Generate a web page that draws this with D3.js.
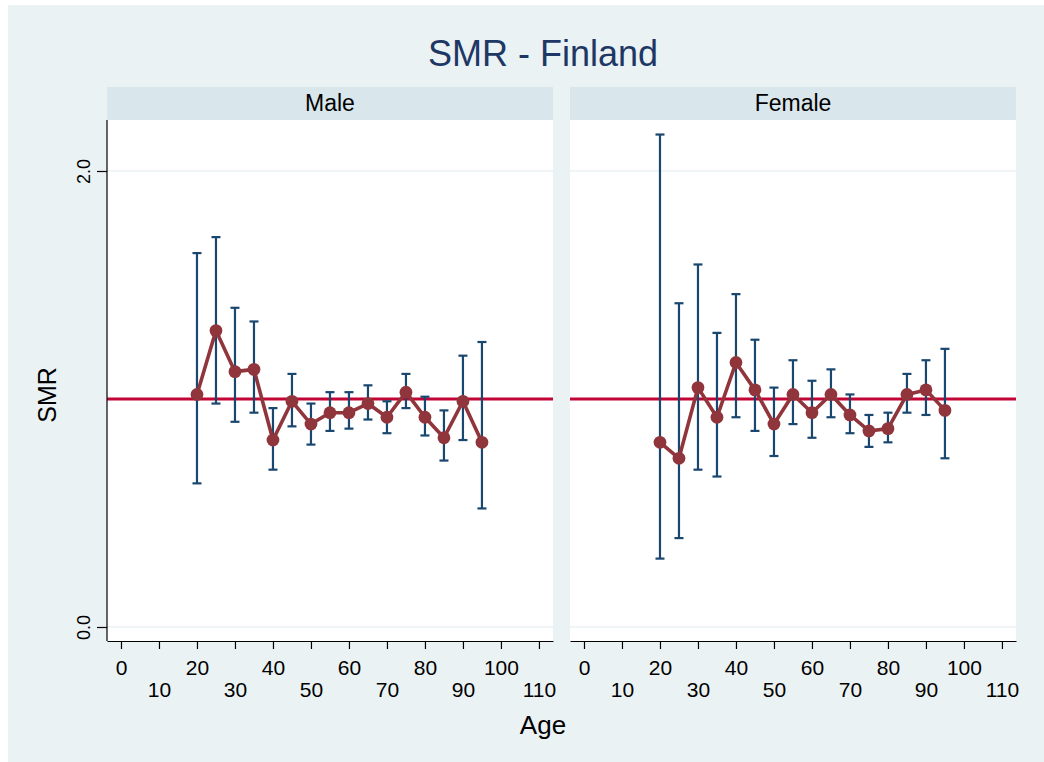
<!DOCTYPE html>
<html lang="en">
<head>
    <meta charset="UTF-8">
    <title>SMR - Finland</title>
    <script src="https://d3js.org/d3.v7.min.js" charset="utf-8"></script>
    <style>
        body { margin: 0; background: #fff; }
        text { font-family: Arial, "Liberation Sans", sans-serif; }
    </style>
</head>
<body>
    <div id="vis"></div>
    <script>

        // age groups (same for both panels)
        var ages = [20, 25, 30, 35, 40, 45, 50, 55, 60, 65, 70, 75, 80, 85, 90, 95];

        var maleSmr = [1.02, 1.30, 1.12, 1.13, 0.82, 0.99, 0.89, 0.94, 0.94, 0.98, 0.92, 1.03, 0.92, 0.83, 0.99, 0.81];
        var maleLo  = [0.63, 0.98, 0.90, 0.94, 0.69, 0.88, 0.80, 0.86, 0.87, 0.91, 0.85, 0.96, 0.84, 0.73, 0.82, 0.52];
        var maleHi  = [1.64, 1.71, 1.40, 1.34, 0.96, 1.11, 0.98, 1.03, 1.03, 1.06, 0.99, 1.11, 1.01, 0.95, 1.19, 1.25];

        var femaleSmr = [0.81, 0.74, 1.05, 0.92, 1.16, 1.04, 0.89, 1.02, 0.94, 1.02, 0.93, 0.86, 0.87, 1.02, 1.04, 0.95];
        var femaleLo  = [0.30, 0.39, 0.69, 0.66, 0.92, 0.86, 0.75, 0.89, 0.83, 0.92, 0.85, 0.79, 0.81, 0.94, 0.93, 0.74];
        var femaleHi  = [2.16, 1.42, 1.59, 1.29, 1.46, 1.26, 1.05, 1.17, 1.08, 1.13, 1.02, 0.93, 0.94, 1.11, 1.17, 1.22];

        var panelNames = ["Male", "Female"];
        var xTicks = [0, 10, 20, 30, 40, 50, 60, 70, 80, 90, 100, 110];
        var yTicks = [0, 2];
        var refValue = 1;

        var width = 1044;
        var height = 762;

        var svg = d3.select("#vis")
            .append("svg")
            .attr("width", width)
            .attr("height", height);

        // graph background
        svg.append("rect")
            .attr("x", 8).attr("y", 5)
            .attr("width", width - 8).attr("height", height - 5)
            .attr("fill", "#eaf2f3");

        svg.append("text")
            .attr("x", 543).attr("y", 66)
            .attr("text-anchor", "middle")
            .attr("font-size", 36)
            .attr("fill", "#1e3765")
            .text("SMR - Finland");

        var plotTop = 120, plotBottom = 641, stripTop = 87;
        var panelLeft = [107, 570];
        var panelW = 446;

        var y_scale = d3.scaleLinear()
            .domain([0, 2])
            .range([627, 171]);

        var panelData = [
            { smr: maleSmr, lo: maleLo, hi: maleHi },
            { smr: femaleSmr, lo: femaleLo, hi: femaleHi }
        ];

        panelData.forEach(function(pd, p) {
            var x0 = panelLeft[p];
            var x_scale = d3.scaleLinear()
                .domain([-3.68, 113.7])
                .range([x0, x0 + panelW]);

            var rows = ages.map(function(a, i) {
                return { age: a, smr: pd.smr[i], lo: pd.lo[i], hi: pd.hi[i] };
            });

            // strip
            svg.append("rect")
                .attr("x", x0).attr("y", stripTop)
                .attr("width", panelW).attr("height", plotTop - stripTop)
                .attr("fill", "#d9e6eb");
            svg.append("text")
                .attr("x", x0 + panelW / 2).attr("y", 111)
                .attr("text-anchor", "middle")
                .attr("font-size", 23)
                .attr("fill", "#000")
                .text(panelNames[p]);

            // plot region
            svg.append("rect")
                .attr("x", x0).attr("y", plotTop)
                .attr("width", panelW).attr("height", plotBottom - plotTop)
                .attr("fill", "#fff");

            var g = svg.append("g");

            // gridlines
            g.selectAll(".grid")
                .data(yTicks)
                .enter()
                .append("line")
                .attr("x1", x0).attr("x2", x0 + panelW)
                .attr("y1", function(d) { return y_scale(d); })
                .attr("y2", function(d) { return y_scale(d); })
                .attr("stroke", "#eaf2f3")
                .attr("stroke-width", 1.5);

            // reference line at 1
            g.append("line")
                .attr("x1", x0).attr("x2", x0 + panelW)
                .attr("y1", y_scale(refValue)).attr("y2", y_scale(refValue))
                .attr("stroke", "#c10534")
                .attr("stroke-width", 2.8);

            // error bars
            var bars = g.selectAll(".ci")
                .data(rows)
                .enter()
                .append("g")
                .attr("class", "ci")
                .attr("stroke", "#1a476f")
                .attr("stroke-width", 2.2);
            bars.append("line")
                .attr("x1", function(d) { return x_scale(d.age); })
                .attr("x2", function(d) { return x_scale(d.age); })
                .attr("y1", function(d) { return y_scale(d.lo); })
                .attr("y2", function(d) { return y_scale(d.hi); });
            ["lo", "hi"].forEach(function(k) {
                bars.append("line")
                    .attr("x1", function(d) { return x_scale(d.age) - 4.5; })
                    .attr("x2", function(d) { return x_scale(d.age) + 4.5; })
                    .attr("y1", function(d) { return y_scale(d[k]); })
                    .attr("y2", function(d) { return y_scale(d[k]); });
            });

            // connected SMR line
            var line = d3.line()
                .x(function(d) { return x_scale(d.age); })
                .y(function(d) { return y_scale(d.smr); });
            g.append("path")
                .datum(rows)
                .attr("d", line)
                .attr("fill", "none")
                .attr("stroke", "#90353b")
                .attr("stroke-width", 3.6)
                .attr("stroke-linejoin", "round");

            g.selectAll(".pt")
                .data(rows)
                .enter()
                .append("circle")
                .attr("cx", function(d) { return x_scale(d.age); })
                .attr("cy", function(d) { return y_scale(d.smr); })
                .attr("r", 6.4)
                .attr("fill", "#90353b");

            // x axis, labels staggered on two rows
            var x_axis = d3.axisBottom(x_scale)
                .tickValues(xTicks)
                .tickSize(8)
                .tickSizeOuter(0);
            var ax = svg.append("g")
                .attr("transform", "translate(0," + plotBottom + ")")
                .call(x_axis);
            ax.select(".domain").attr("stroke", "#000").attr("stroke-width", 1.2);
            ax.selectAll(".tick line").attr("stroke", "#000").attr("stroke-width", 1.2);
            ax.selectAll(".tick text")
                .attr("font-size", 21)
                .attr("font-family", "Arial, 'Liberation Sans', sans-serif")
                .attr("fill", "#000")
                .attr("dy", 0)
                .attr("y", function(d, i) { return i % 2 ? 56 : 34; });

            // y axis only on the first panel
            if (p === 0) {
                var y_axis = d3.axisLeft(y_scale)
                    .tickValues(yTicks)
                    .tickSize(10)
                    .tickSizeOuter(0)
                    .tickFormat(d3.format(".1f"));
                var ay = svg.append("g")
                    .attr("transform", "translate(" + x0 + ",0)")
                    .call(y_axis);
                ay.select(".domain")
                    .attr("d", "M0," + plotTop + "V" + plotBottom)
                    .attr("stroke", "#000").attr("stroke-width", 1.2);
                ay.selectAll(".tick line").attr("stroke", "#000").attr("stroke-width", 1.2);
                ay.selectAll(".tick text")
                    .attr("font-size", 18)
                    .attr("font-family", "Arial, 'Liberation Sans', sans-serif")
                    .attr("fill", "#000")
                    .attr("transform", "rotate(-90)")
                    .attr("x", 0)
                    .attr("y", -17)
                    .attr("dy", 0)
                    .attr("text-anchor", "middle");
            }
        });

        svg.append("text")
            .attr("x", 543).attr("y", 734)
            .attr("text-anchor", "middle")
            .attr("font-size", 26)
            .attr("fill", "#000")
            .text("Age");

        svg.append("text")
            .attr("transform", "translate(56,395) rotate(-90)")
            .attr("text-anchor", "middle")
            .attr("font-size", 25)
            .attr("fill", "#000")
            .text("SMR");

    </script>
</body>
</html>
